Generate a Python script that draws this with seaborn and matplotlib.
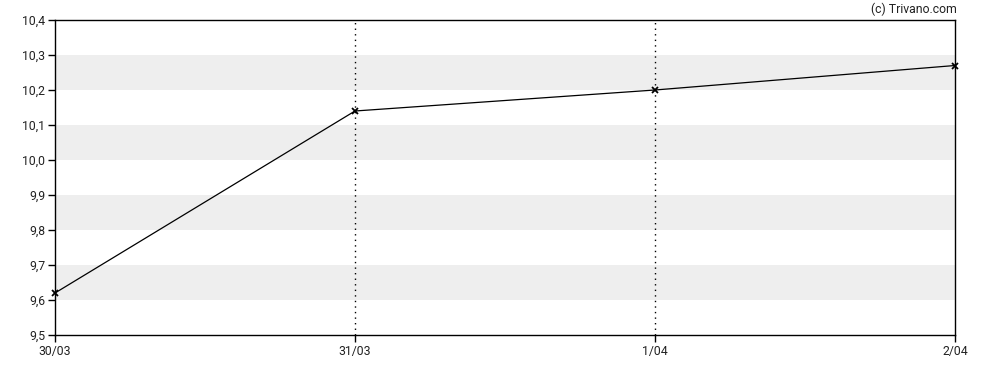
import matplotlib
matplotlib.use("Agg")
import matplotlib.pyplot as plt
import seaborn as sns
import pandas as pd

dates = ["30/03", "31/03", "1/04", "2/04"]
values = [9.62, 10.14, 10.20, 10.27]
yticks = [9.5, 9.6, 9.7, 9.8, 9.9, 10.0, 10.1, 10.2, 10.3, 10.4]
bands = [(9.6, 9.7), (9.8, 9.9), (10.0, 10.1), (10.2, 10.3)]

sns.set_style("white")
plt.rcParams['font.family'] = ['Roboto', 'DejaVu Sans']

df = pd.DataFrame({"x": range(len(dates)), "y": values})

fig = plt.figure(figsize=(9.88, 3.70), dpi=100)
ax = fig.add_axes([55/988, 1-335/370, 900/988, 315/370])

for lo, hi in bands:
    ax.axhspan(lo, hi, color="#eeeeee", lw=0, zorder=0)
for i in [1, 2]:
    ax.axvline(i, color="black", lw=1, ls=(0, (1, 3)), zorder=1)

sns.lineplot(data=df, x="x", y="y", ax=ax, color="black", lw=0.9,
             marker="x", markersize=4, markeredgewidth=1.3, markeredgecolor="black", zorder=3)
for ln in ax.lines:
    ln.set_clip_on(False)

ax.set_xlim(0, 3)
ax.set_ylim(9.5, 10.4)
ax.set_xticks(range(len(dates)))
ax.set_xticklabels(dates)
ax.set_yticks(yticks)
ax.set_yticklabels([f"{v:.1f}".replace(".", ",") for v in yticks])
ax.set_xlabel("")
ax.set_ylabel("")
ax.tick_params(axis="both", which="both", direction="out", length=5, width=1,
               color="black", labelsize=8.8, labelcolor="#222222", pad=2,
               left=True, bottom=True)
for s in ax.spines.values():
    s.set_visible(True)
    s.set_color("black")
    s.set_linewidth(1)

fig.text(957/988, 1-9/370, "(c) Trivano.com", ha="right", va="center",
         fontsize=8.8, color="#222222")

fig.savefig("out.png", dpi=100)
